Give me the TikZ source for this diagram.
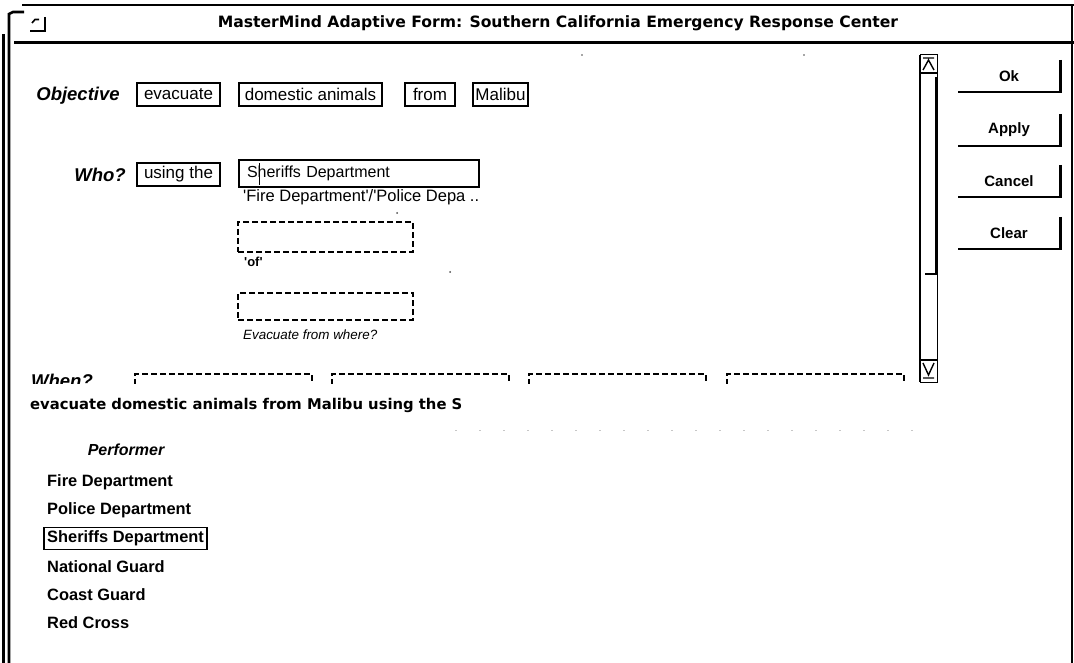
\documentclass[tikz,border=0pt]{standalone}
\usepackage{fontspec}
\setmainfont{Liberation Sans}
\newfontfamily\wide{DejaVu Sans}
\usepackage{tikz}

\begin{document}
\begin{tikzpicture}[x=1pt,y=-1pt,
  border/.style={line width=2.6pt},
  field/.style={draw,line width=1.5pt,inner sep=0pt,minimum height=23pt,font=\fontsize{17}{17}\selectfont},
  slot/.style={draw,line width=1.7pt,dash pattern=on 6pt off 3pt,inner sep=0pt,minimum height=28pt},
  tag/.style={font=\fontsize{18.5}{18.5}\selectfont\bfseries\itshape},
  hint/.style={anchor=west,inner sep=0pt},
  button/.style={inner sep=0pt,minimum width=102pt,minimum height=32pt,font=\fontsize{15}{15}\selectfont\bfseries},
  shade/.style={line width=2.6pt},
  choice/.style={anchor=west,inner sep=3pt,font=\fontsize{16.4}{16.4}\selectfont\bfseries},
  speck/.style={fill=black!70}]
\useasboundingbox (0,0) rectangle (1074,663);

% window frame and title bar
\draw[border] (3.5,663) -- (3.5,34);
\draw[border] (9,663) -- (9,14) -- (13,12) -- (24,12);
\draw[border] (22,5) -- (1074,5);
\draw[line width=3pt] (14,43) -- (1074,43);
\draw[line width=1.5pt] (1072,5) -- (1072,663);
\draw[line width=1.6pt] (32,23) -- (35,19.5) -- (39,19.5);
\draw[line width=1.8pt] (45,17) -- (45,31) -- (30,31);
\node[font=\wide\fontsize{15.6}{15.6}\selectfont\bfseries] (title) at (558,23)
  {MasterMind Adaptive Form: Southern California Emergency Response Center};

% form
\node[tag] (objective) at (78,96) {Objective};
\node[field,minimum width=83pt] (verb) at (178.5,94.5) {evacuate};
\node[field,minimum width=143pt] (object) at (310.5,94.5) {domestic animals};
\node[field,minimum width=50pt] (prep) at (430,94.5) {from};
\node[field,minimum width=55pt] (place) at (500.5,94.5) {Malibu};

\node[tag] (who) at (100,175) {Who?};
\node[field,minimum width=83pt] (using) at (178.5,174.5) {using the};
\node[field,line width=2pt,minimum width=240pt,minimum height=27pt,text width=224pt,
  font=\fontsize{16}{16}\selectfont] (agent) at (359,173.5) {Sheriffs Department};
\draw[line width=1pt] (259,163) -- (259,185);
\node[hint,font=\fontsize{16.5}{16.5}\selectfont] (agenthint) at (243,197)
  {\textquotesingle Fire Department\textquotesingle/\textquotesingle Police Depa ..};
\fill[speck] (397,213) circle (1pt);

\node[slot,minimum width=175pt,minimum height=30pt] (ofslot) at (325.5,237) {};
\node[hint,font=\fontsize{13}{13}\selectfont\bfseries] (ofhint) at (244,262) {\textquotesingle of\textquotesingle};
\fill[speck] (450,272) circle (1pt);
\node[slot,minimum width=175pt,minimum height=27pt] (whereslot) at (325.5,306.5) {};
\node[hint,font=\fontsize{13.4}{13.4}\selectfont\itshape] (wherehint) at (243,335) {Evacuate from where?};

\begin{scope}
\clip (14,45) rectangle (918,383);
\node[tag] (when) at (62,381) {When?};
\foreach \i/\x in {1/134,2/331,3/528,4/726}
  \node[slot,minimum width=177pt,anchor=north west] (when\i) at (\x,373) {};
\end{scope}
\fill[speck] (582,55) circle (0.8pt) (804,55) circle (0.8pt);

% scroll bar
\draw[line width=2.6pt] (920,55) -- (920,382);
\draw[line width=1pt] (920,55) -- (937,55) -- (937,382) -- (920,382);
\draw[line width=1.2pt] (920,73) -- (937,73) (920,360) -- (937,360);
\draw[line width=2.4pt] (925,274) -- (936,274) -- (936,77);
\draw[line width=1.4pt] (923,58) -- (934,58) (923,70) -- (928.5,60) -- (934,70);
\draw[line width=1.4pt] (923,363) -- (928.5,375) -- (934,363) (923,378) -- (934,378);

% buttons
\foreach \name/\y/\txt in {ok/76/Ok,apply/130/Apply,cancel/181/Cancel,clear/233/Clear}{
  \node[button] (\name) at (1009,\y) {\txt};
  \draw[shade] (\name.north east) -- (\name.south east) -- (\name.south west);
}

% sentence and performer list
\node[anchor=west,inner sep=0pt,font=\wide\fontsize{14.8}{14.8}\selectfont\bfseries] (sentence) at (30,405)
  {evacuate domestic animals from Malibu using the S};
\draw[black!22,line width=1pt,dash pattern=on 2pt off 22pt] (455,430) -- (915,430);
\node[font=\fontsize{16}{16}\selectfont\bfseries\itshape] (performer) at (126,450) {Performer};
\foreach \i/\txt in {0/Fire Department,1/Police Department,2/Sheriffs Department,3/National Guard,4/Coast Guard,5/Red Cross}
  \node[choice] (choice\i) at (44,{482+28.2*\i}) {\txt};
\draw[line width=1.4pt] (choice2.south west) rectangle (choice2.north east);
\end{tikzpicture}
\end{document}
